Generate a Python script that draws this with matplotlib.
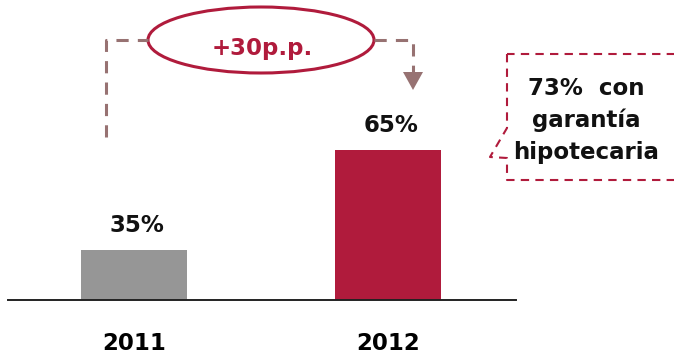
import matplotlib
matplotlib.use('Agg')
import matplotlib.pyplot as plt
from matplotlib.patches import Ellipse, Polygon

# Share of new lending, by year
years = ['2011', '2012']
shares = [35, 65]
share_labels = ['35%', '65%']
change_label = '+30p.p.'
note_lines = ['73%  con', 'garantía', 'hipotecaria']

crimson = '#B01B3C'
grey = '#969696'
bracket = '#977272'

W, H = 674, 359
fig = plt.figure(figsize=(W / 100, H / 100), dpi=100)

# bar axes: baseline sits at y=300 px, value axis starts at 20
base_px = 300
ax = fig.add_axes([8 / W, (H - base_px) / H, (516 - 8) / W, base_px / H])
x = range(len(years))
ax.bar(x, shares, width=0.42, color=[grey, crimson], bottom=0)
ax.set_xlim(-0.496, 1.504)
ax.set_ylim(20, 110)
for s in ['top', 'right', 'left']:
    ax.spines[s].set_visible(False)
ax.spines['bottom'].set_linewidth(1.4)
ax.spines['bottom'].set_color('#222222')
ax.set_yticks([])
ax.set_xticks(list(x))
ax.set_xticklabels(years, fontsize=16.5, fontweight='bold')
ax.tick_params(axis='x', length=0, pad=23)

for xi, v, lab in zip(x, shares, share_labels):
    ax.annotate(lab, xy=(xi, v), xytext=(2, 13), textcoords='offset points',
                ha='center', va='baseline', fontsize=16.5, fontweight='bold',
                color='#111111')

# overlay in pixel coordinates for the callouts
ov = fig.add_axes([0, 0, 1, 1], zorder=5)
ov.set_xlim(0, W)
ov.set_ylim(H, 0)
ov.axis('off')
ov.patch.set_alpha(0)

dash = (0, (4, 3))
ov.plot([106, 106, 148], [137, 40, 40], color=bracket, lw=2.2, linestyle=dash)
ov.plot([374, 413, 413], [40, 40, 73], color=bracket, lw=2.2, linestyle=dash)
ov.add_patch(Polygon([(403, 72), (423, 72), (413, 90)], closed=True,
                     facecolor=bracket, edgecolor='none'))

ov.add_patch(Ellipse((261, 40), 226, 66, facecolor='white', edgecolor=crimson, lw=2.2))
ov.text(262, 55, change_label, ha='center', va='baseline', fontsize=16.5,
        fontweight='bold', color=crimson)

# dashed note box with a small pointer on its left side
box_x = [507, 507, 490, 507, 507, 680]
box_y = [54, 128, 157, 158, 180, 180]
ov.plot([680] + box_x[:1], [54, 54], color=crimson, lw=1.5, linestyle=dash)
ov.plot(box_x, box_y, color=crimson, lw=1.5, linestyle=dash)

for line, yb in zip(note_lines, [95, 127, 159]):
    ov.text(586, yb, line, ha='center', va='baseline', fontsize=16.5,
            fontweight='bold', color='#111111')

fig.savefig('out.png', dpi=100)
